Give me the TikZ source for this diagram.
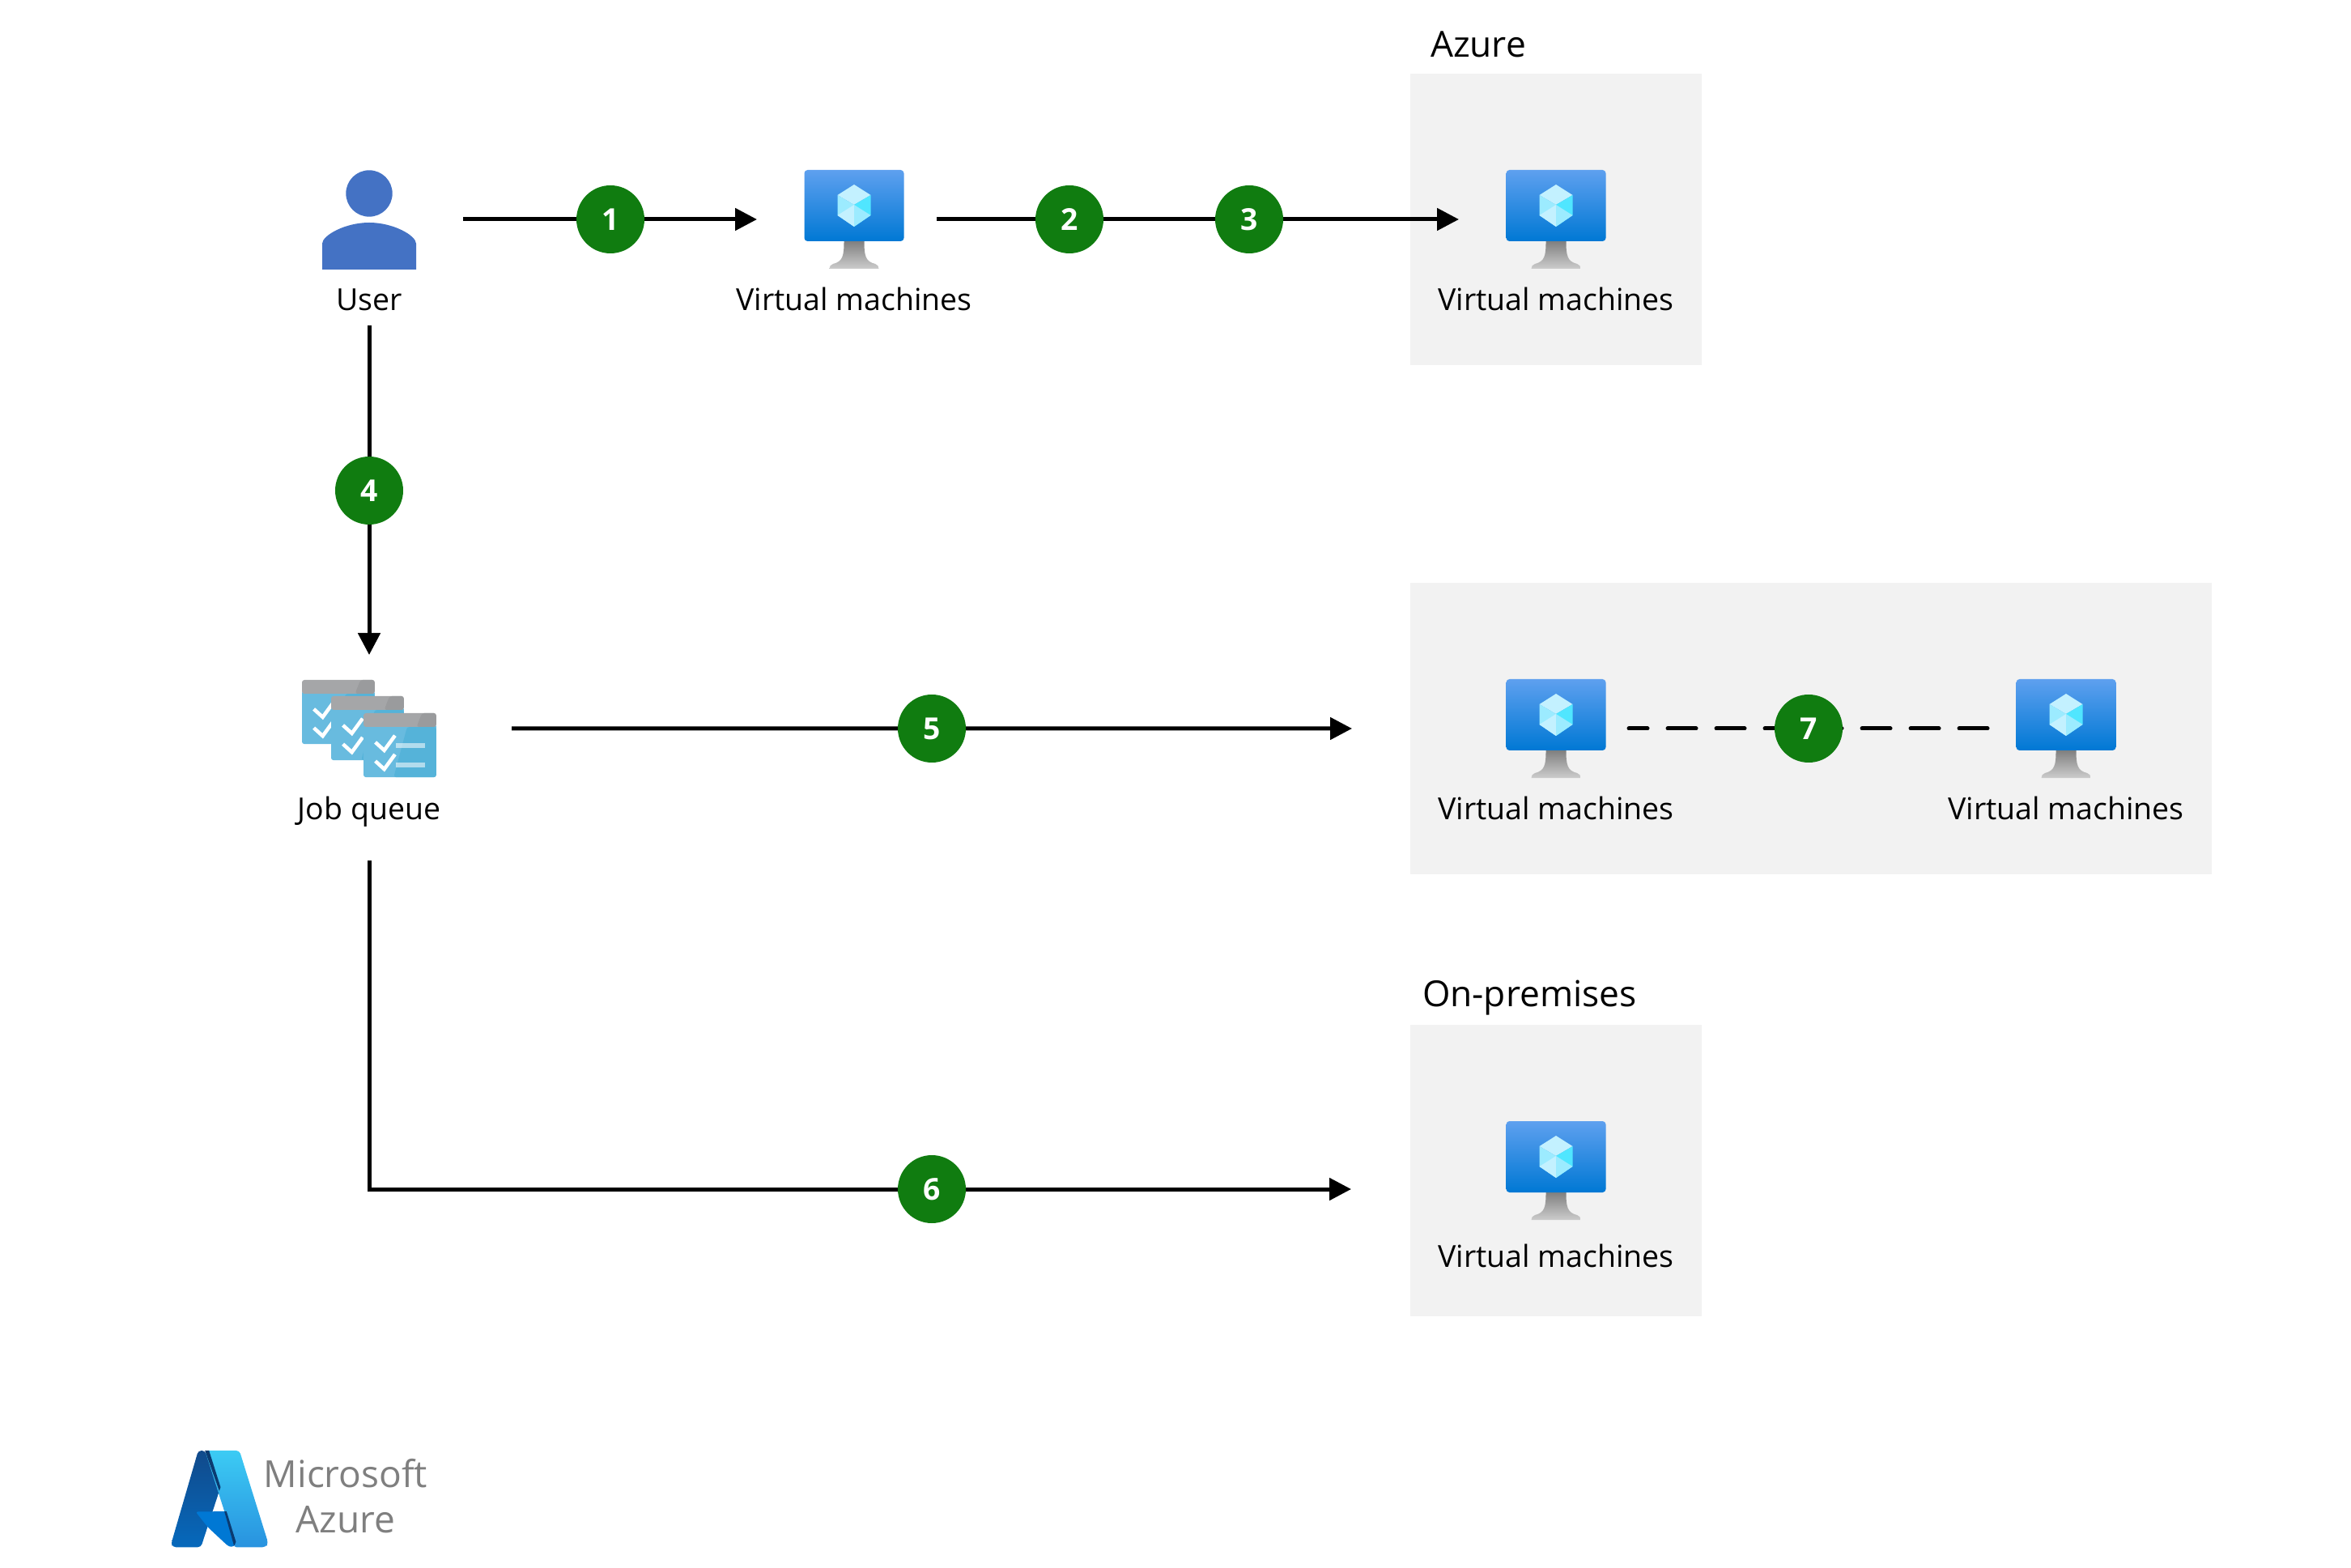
\documentclass[tikz,border=0pt]{standalone}
\usepackage{fontspec}
\setmainfont{Open Sans}
\usepackage{xcolor}
\usetikzlibrary{positioning,arrows.meta,calc,backgrounds}
\definecolor{zonebg}{HTML}{F2F2F2}
\definecolor{stepgreen}{HTML}{107C10}
\definecolor{userblue}{HTML}{4472C4}
\definecolor{logogray}{HTML}{7F7F7F}
\definecolor{screentop}{HTML}{5EA0EF}
\definecolor{screenbot}{HTML}{0078D4}
\definecolor{hexpale}{HTML}{C3F1FF}
\definecolor{hexmid}{HTML}{9CEBFF}
\definecolor{hexdeep}{HTML}{50E6FF}
\definecolor{cardblue}{HTML}{68BBDF}
\definecolor{carddeep}{HTML}{55B3D9}
\definecolor{cardgray}{HTML}{A5A6A8}
\definecolor{carddark}{HTML}{9A9B9D}
\definecolor{logodark}{HTML}{114A8B}
\definecolor{logolow}{HTML}{0669BC}
\definecolor{logosky}{HTML}{3CCBF4}
\definecolor{logosea}{HTML}{2892DF}
\definecolor{logomid}{HTML}{0078D4}
\definecolor{logoshade}{HTML}{0B3A70}

\tikzset{
    vmicon/.pic={
        \shade[top color=black!50, bottom color=black!20] (-0.125,-0.27) .. controls (-0.125,-0.45) and (-0.14,-0.52) .. (-0.26,-0.55) .. controls (-0.29,-0.56) and (-0.305,-0.58) .. (-0.305,-0.61) -- (0.305,-0.61) .. controls (0.305,-0.58) and (0.29,-0.56) .. (0.26,-0.55) .. controls (0.14,-0.52) and (0.125,-0.45) .. (0.125,-0.27) -- cycle;
        \shade[top color=screentop, bottom color=screenbot, rounded corners=0.4mm] (-0.615,0.61) rectangle (0.615,-0.27);
        \fill[hexpale] (0,0.43) -- (0.205,0.30) -- (0,0.18) -- (-0.205,0.30) -- cycle;
        \fill[hexmid] (-0.205,0.30) -- (0,0.18) -- (0,-0.09) -- (-0.205,0.05) -- cycle;
        \fill[hexdeep] (0.205,0.30) -- (0,0.18) -- (0,-0.09) -- (0.205,0.05) -- cycle;
        \fill[hexpale] (-0.205,0.05) -- (0,0.18) -- (0,-0.09) -- cycle;
        \fill[hexmid] (0.205,0.05) -- (0,0.18) -- (0,-0.09) -- cycle;
    },
    usericon/.pic={
        \fill[userblue] (0,0.32) circle (0.287);
        \fill[userblue] (-0.58,-0.62) -- (-0.58,-0.30) .. controls (-0.58,-0.2) and (-0.3,-0.04) .. (0,-0.04) .. controls (0.3,-0.04) and (0.58,-0.2) .. (0.58,-0.30) -- (0.58,-0.62) -- cycle;
    },
    % one card of the queue, origin at its top left
    jobcard/.pic={
        \begin{scope}[x=0.003333cm, y=-0.003333cm]
            \fill[cardblue, rounded corners=0.3mm] (0,40) -- (0,238) -- (270,238) -- (270,40) -- cycle;
            \fill[carddeep, rounded corners=0.3mm] (162,51) -- (112,238) -- (270,238) -- (270,51) -- cycle;
            \fill[cardgray, rounded corners=0.3mm] (0,51) -- (0,0) -- (270,0) -- (270,51) -- cycle;
            \fill[carddark, rounded corners=0.3mm] (197,51) -- (217,0) -- (270,0) -- (270,51) -- cycle;
            \foreach \dy in {0,70} {
                \draw[white, line width=0.45mm] (44,108+\dy) -- (77,138+\dy) -- (117,83+\dy);
                \fill[white, opacity=0.55] (119,112+\dy) rectangle (227,130+\dy);
            }
        \end{scope}
    },
    azurelogo/.pic={
        \begin{scope}[x=0.003333cm, y=-0.003333cm]
            \shade[top color=logodark, bottom color=logolow, rounded corners=0.4mm] (190,96) -- (165,96) -- (65,440) -- (70,455) -- (175,455) -- (245,240) -- cycle;
            \shade[top color=logosky, bottom color=logosea, rounded corners=0.4mm] (190,96) -- (318,96) -- (425,440) -- (415,455) -- (295,455) -- (300,440) -- cycle;
            \fill[logoshade] (190,96) -- (205,96) -- (248,232) -- (243,246) -- cycle;
            \fill[logomid, rounded corners=0.3mm] (155,323) -- (270,322) -- (305,445) -- (290,455) -- (275,450) -- (200,380) -- cycle;
            \fill[logoshade] (270,322) -- (305,435) -- (298,450) -- (262,322) -- cycle;
        \end{scope}
    }
}

\begin{document}
\begin{tikzpicture}[
    slot/.style={minimum width=1.8cm, minimum height=1.22cm, inner sep=0pt, outer sep=0pt},
    lbl/.style={minimum height=0.7cm, inner sep=0pt, outer sep=0pt, text height=0.34cm, text depth=0pt, font=\fontsize{10.66}{13}\selectfont},
    zone/.style={fill=zonebg, inner sep=0pt, outer sep=0pt},
    ztitle/.style={inner sep=0pt, outer sep=0pt, text depth=0pt, font=\fontsize{12.6}{16}\selectfont},
    num/.style={circle, fill=stepgreen, minimum size=0.84cm, inner sep=0pt, text=white, font=\fontsize{10.6}{12}\bfseries\selectfont},
    arr/.style={-{Triangle[length=0.27cm, width=0.27cm]}, line width=0.5mm, draw=black, shorten >=0.3cm},
    link/.style={dash pattern=on 0.35cm off 0.25cm, dash phase=0.12cm, line cap=round, line width=0.5mm, draw=black}
]
    \useasboundingbox (0,0) rectangle (29.04,19.36);

    % First row
    \node[slot, minimum width=2.32cm] (user) at (4.56,16.65) {};
    \node[slot, right=3.93cm of user] (vma) {};
    \node[slot, right=6.87cm of vma] (vmb) {};
    \node[lbl, below=0pt of user] (userlbl) {User};
    \node[lbl, below=0pt of vma] (vmalbl) {Virtual machines};
    \node[lbl, below=0pt of vmb] (vmblbl) {Virtual machines};

    % Queue and the two other groups
    \node[slot, minimum width=3.52cm, below=5.07cm of user] (jobq) {};
    \node[lbl, below=0pt of jobq] (jobqlbl) {Job queue};
    \node[slot, below=5.07cm of vmb] (vmc) {};
    \node[slot, right=4.5cm of vmc] (vmd) {};
    \node[slot, below=4.24cm of vmc] (vme) {};
    \node[lbl, below=0pt of vmc] (vmclbl) {Virtual machines};
    \node[lbl, below=0pt of vmd] (vmdlbl) {Virtual machines};
    \node[lbl, below=0.06cm of vme] (vmelbl) {Virtual machines};

    % Grey zones
    \begin{scope}[on background layer]
        \node[zone, minimum width=3.6cm, minimum height=3.6cm] (zonea) at (vmb) {};
        \node[zone, minimum width=9.9cm, minimum height=3.6cm] (zoneb) at ($(vmc)!0.5!(vmd)$) {};
        \node[zone, minimum width=3.6cm, minimum height=3.6cm] (zonec) at (vme) {};
    \end{scope}
    \node[ztitle, above right=0.2cm and 0.25cm of zonea.north west] (azuretitle) {Azure};
    \node[ztitle, above right=0.23cm and 0.15cm of zonec.north west] (premtitle) {On-premises};

    \coordinate (premin) at (16.99,4.67);

    % Connectors
    \draw[arr] (user) -- (vma);
    \draw[arr, shorten <=0.12cm] (vma) -- (vmb);
    \draw[arr] (userlbl) -- (jobq);
    \draw[arr, shorten >=0.72cm] (jobq) -- (zoneb);
    \draw[arr, shorten <=0.32cm] (jobqlbl) |- (premin);
    \draw[link, shorten >=0.03cm] (vmc) -- (vmd);

    % Numbers
    \node[num] (n1) at (7.54,16.65) {1};
    \node[num] (n2) at (13.21,16.65) {2};
    \node[num] (n3) at (15.43,16.65) {3};
    \node[num] (n4) at (4.56,13.3) {4};
    \node[num] (n5) at (11.51,10.36) {5};
    \node[num] (n6) at (11.51,4.67) {6};
    \node[num] (n7) at (22.34,10.36) {7};

    % Icons
    \pic at (user) {usericon};
    \pic at (vma) {vmicon};
    \pic at (vmb) {vmicon};
    \pic at (vmc) {vmicon};
    \pic at (vmd) {vmicon};
    \pic at (vme) {vmicon};
    \pic at ($(jobq)+(-0.83,0.6)$) {jobcard};
    \pic at ($(jobq)+(-0.47,0.4)$) {jobcard};
    \pic at ($(jobq)+(-0.07,0.19)$) {jobcard};

    % Logo
    \pic at (1.90,1.76) {azurelogo};
    \node[inner sep=0pt, align=center, text=logogray, font=\fontsize{13.1}{15.9}\selectfont] (logotext) at (4.27,0.875) {Microsoft\\Azure};
\end{tikzpicture}
\end{document}
